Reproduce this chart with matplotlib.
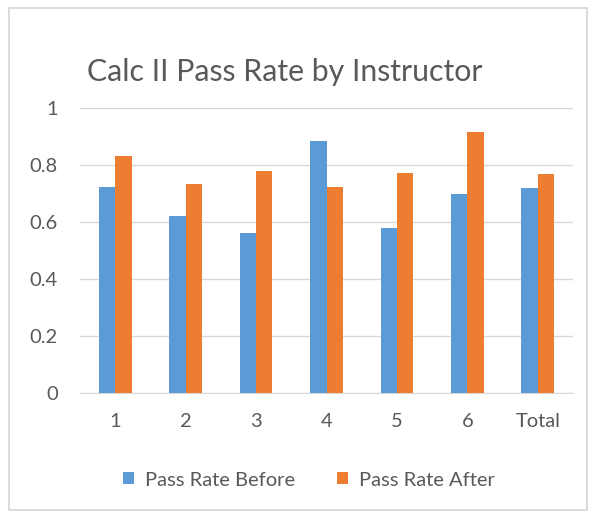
import numpy as np
import matplotlib.pyplot as plt
from matplotlib.patches import Rectangle

plt.rcParams['font.family'] = ['Lato', 'DejaVu Sans']

categories = ['1', '2', '3', '4', '5', '6', 'Total']
pass_before = [0.725, 0.622, 0.564, 0.886, 0.579, 0.699, 0.722]
pass_after = [0.833, 0.734, 0.779, 0.725, 0.774, 0.918, 0.770]

BLUE = '#5B9BD5'
ORANGE = '#ED7D31'
TEXT = '#595959'
GRID = '#D9D9D9'

fig = plt.figure(figsize=(5.92, 5.14), dpi=100)
ax = fig.add_axes([80 / 592, 1 - 393.3 / 514, 493 / 592, 285 / 514])

# chart border
fig.patches.append(Rectangle((9 / 592, 1 - 510 / 514), 578 / 592, 502 / 514,
                             transform=fig.transFigure, fill=False,
                             edgecolor='#D4D4D4', linewidth=1.2))

x = np.arange(len(categories))
w = 0.232
ax.bar(x - w / 2, pass_before, w, color=BLUE, label='Pass Rate Before', zorder=3)
ax.bar(x + w / 2, pass_after, w, color=ORANGE, label='Pass Rate After', zorder=3)

ax.set_xlim(-0.5, len(categories) - 0.5)
ax.set_ylim(0, 1)
ax.set_yticks([0, 0.2, 0.4, 0.6, 0.8, 1.0])
ax.set_yticklabels(['0', '0.2', '0.4', '0.6', '0.8', '1'])
ax.set_xticks(x)
ax.set_xticklabels(categories)
ax.tick_params(length=0, colors=TEXT, labelsize=14.5)
ax.tick_params(axis='y', pad=16)
ax.tick_params(axis='x', pad=14)
ax.yaxis.grid(True, color=GRID, linewidth=1, zorder=0)
for s in ['top', 'right', 'left']:
    ax.spines[s].set_visible(False)
ax.spines['bottom'].set_color(GRID)

fig.text(285 / 592, 1 - 72 / 514, 'Calc II Pass Rate by Instructor',
         ha='center', va='center', fontsize=21.8, color=TEXT)

fig.legend(loc='center', bbox_to_anchor=(309 / 592, 1 - 480 / 514), ncol=2,
           frameon=False, fontsize=14.5, labelcolor=TEXT, handlelength=0.55,
           handleheight=0.55, handletextpad=0.55, columnspacing=2.1)

fig.savefig('out.png', dpi=100)
